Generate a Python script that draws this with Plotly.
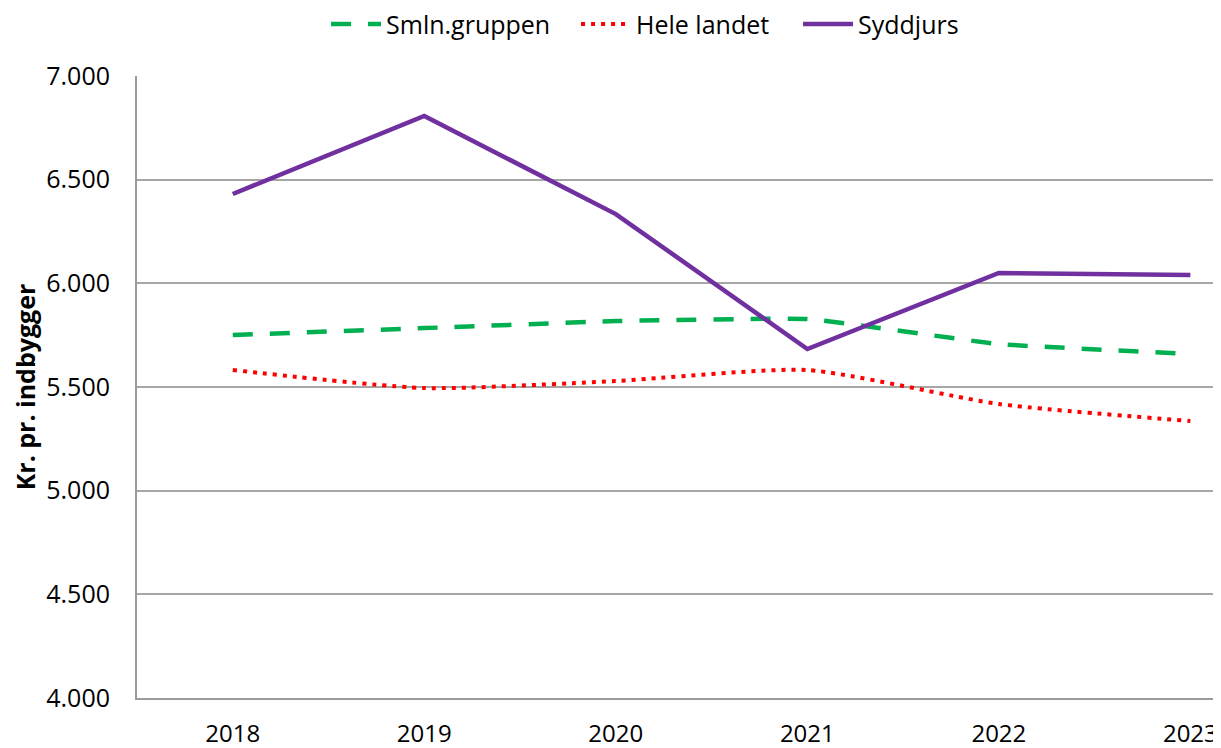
import plotly.graph_objects as go

years = ["2018", "2019", "2020", "2021", "2022", "2023"]
smln = [5751, 5784, 5818, 5828, 5707, 5659]
hele = [5582, 5495, 5529, 5582, 5418, 5336]
syddjurs = [6431, 6807, 6334, 5683, 6050, 6040]
yticks = [4000, 4500, 5000, 5500, 6000, 6500, 7000]
ytick_labels = ["4.000", "4.500", "5.000", "5.500", "6.000", "6.500", "7.000"]

FONT = "Open Sans, Lato, sans-serif"
xi = list(range(len(years)))

fig = go.Figure()
fig.add_trace(go.Scatter(x=xi, y=smln, mode="lines", name="Smln.gruppen", legend="legend",
                         line=dict(color="#00B050", width=4.5, dash="20px,17px", shape="spline", smoothing=0.3)))
fig.add_trace(go.Scatter(x=xi, y=hele, mode="lines", name="Hele landet", legend="legend2",
                         line=dict(color="#FF0000", width=4, dash="4px,6px", shape="spline", smoothing=0.6)))
fig.add_trace(go.Scatter(x=xi, y=syddjurs, mode="lines", name="Syddjurs", legend="legend3",
                         line=dict(color="#7030A0", width=4.5)))

def leg(xpos):
    return dict(orientation="h", x=xpos, xanchor="left", y=0.978, yanchor="middle",
                xref="container", yref="container", font=dict(size=25, family=FONT),
                itemwidth=50, bgcolor="rgba(0,0,0,0)")

# page has an 8px body margin, so the figure is 1213x740 placed at (8, 8)
fig.update_layout(
    width=1213, height=740,
    margin=dict(l=129, r=0, t=68, b=50, autoexpand=False),
    paper_bgcolor="white", plot_bgcolor="white",
    font=dict(family=FONT, size=25, color="black"),
    showlegend=True,
    legend=leg(0.2622), legend2=leg(0.4683), legend3=leg(0.6513),
)
fig.update_xaxes(
    tickmode="array", tickvals=xi, ticktext=years, automargin=False,
    range=[-0.5, 5.16], showgrid=False, zeroline=False,
    showline=True, linecolor="#9a9a9a", linewidth=2,
    ticks="outside", ticklen=13, tickcolor="rgba(0,0,0,0)",
    tickfont=dict(size=24, family=FONT),
)
fig.update_yaxes(
    range=[4000, 7000], tickmode="array", tickvals=yticks, ticktext=ytick_labels,
    automargin=False,
    showgrid=True, gridcolor="#a6a6a6", gridwidth=2, zeroline=False,
    showline=True, linecolor="#9a9a9a", linewidth=2,
    ticks="outside", ticklen=20, tickcolor="rgba(0,0,0,0)",
    tickfont=dict(size=25, family=FONT),
    title=dict(text="<b>Kr. pr. indbygger</b>", font=dict(size=25, family=FONT), standoff=14),
)
fig.write_html("out.html")
